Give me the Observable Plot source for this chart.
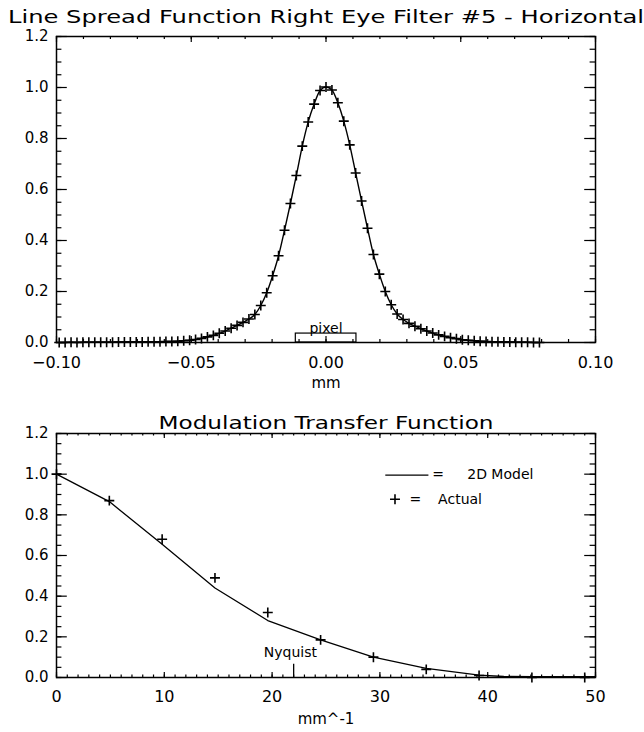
<!DOCTYPE html>
<html>
<head>
<meta charset="utf-8">
<script src="https://cdn.jsdelivr.net/npm/d3@7"></script>
<script src="https://cdn.jsdelivr.net/npm/@observablehq/plot@0.6"></script>
<style>
  html, body { margin: 0; padding: 0; background: #fff; }
  svg { display: block; }
</style>
</head>
<body>
<div id="chart"></div>
<script>
// ---------- Panel 1: Line Spread Function ----------
const lsfTitle = "Line Spread Function Right Eye Filter #5 - Horizontal";
const lsfXLabel = "mm";
const lsfXTicks = [-0.10, -0.05, 0.00, 0.05, 0.10];
const lsfYTicks = [0.0, 0.2, 0.4, 0.6, 0.8, 1.0, 1.2];

const lsfX = [
  -0.0990, -0.0968, -0.0946, -0.0924, -0.0902, -0.0880, -0.0858, -0.0836, -0.0814, -0.0792,
  -0.0770, -0.0748, -0.0726, -0.0704, -0.0682, -0.0660, -0.0638, -0.0616, -0.0594, -0.0572,
  -0.0550, -0.0528, -0.0506, -0.0484, -0.0462, -0.0440, -0.0418, -0.0396, -0.0374, -0.0352,
  -0.0330, -0.0308, -0.0286, -0.0264, -0.0242, -0.0220, -0.0198, -0.0176, -0.0154, -0.0132,
  -0.0110, -0.0088, -0.0066, -0.0044, -0.0022, 0.0000, 0.0022, 0.0044, 0.0066, 0.0088,
  0.0110, 0.0132, 0.0154, 0.0176, 0.0198, 0.0220, 0.0242, 0.0264, 0.0286, 0.0308,
  0.0330, 0.0352, 0.0374, 0.0396, 0.0418, 0.0440, 0.0462, 0.0484, 0.0506, 0.0528,
  0.0550, 0.0572, 0.0594, 0.0616, 0.0638, 0.0660, 0.0682, 0.0704, 0.0726, 0.0748,
  0.0770, 0.0792
];
const lsfY = [
  0.000, 0.000, 0.001, 0.000, 0.001, 0.001, 0.001, 0.001, 0.001, 0.001,
  0.002, 0.002, 0.002, 0.002, 0.002, 0.003, 0.003, 0.003, 0.004, 0.004,
  0.005, 0.007, 0.009, 0.012, 0.016, 0.022, 0.028, 0.036, 0.045, 0.056,
  0.067, 0.079, 0.092, 0.110, 0.145, 0.195, 0.262, 0.340, 0.440, 0.545,
  0.655, 0.770, 0.865, 0.935, 0.988, 1.002, 0.990, 0.940, 0.868, 0.775,
  0.665, 0.555, 0.448, 0.345, 0.268, 0.200, 0.148, 0.112, 0.090, 0.075,
  0.064, 0.054, 0.045, 0.037, 0.030, 0.024, 0.019, 0.015, 0.011, 0.009,
  0.007, 0.005, 0.004, 0.003, 0.003, 0.002, 0.002, 0.001, 0.001, 0.001,
  0.000, 0.000
];
const pixelBox = {x1: -0.0112, x2: 0.0113, y1: 0, y2: 0.035, label: "pixel"};

// ---------- Panel 2: Modulation Transfer Function ----------
const mtfTitle = "Modulation Transfer Function";
const mtfXLabel = "mm^-1";
const mtfXTicks = [0, 10, 20, 30, 40, 50];
const mtfYTicks = [0.0, 0.2, 0.4, 0.6, 0.8, 1.0, 1.2];
const mtfModelX = [0, 4.9, 9.8, 14.7, 19.6, 24.5, 29.4, 34.3, 39.2, 41.5, 44.1, 49.0, 50];
const mtfModelY = [1.0, 0.865, 0.655, 0.44, 0.28, 0.185, 0.10, 0.045, 0.012, 0.005, 0.004, 0.004, 0.004];
const mtfActualX = [0, 4.9, 9.8, 14.7, 19.6, 24.5, 29.4, 34.3, 39.2, 44.1, 49.0];
const mtfActualY = [1.0, 0.87, 0.68, 0.49, 0.32, 0.185, 0.10, 0.04, 0.01, 0.0, 0.0];
const nyquist = 22.0;
const legendModel = "2D Model";
const legendActual = "Actual";

// ---------- build ----------
const lsf = lsfX.map((x, i) => ({x, y: lsfY[i]}));
const mtfModel = mtfModelX.map((x, i) => ({x, y: mtfModelY[i]}));
const mtfActual = mtfActualX.map((x, i) => ({x, y: mtfActualY[i]}));

const W = 644, ML = 56, MR = 49;
const FW = W - ML - MR;
const FONT = "DejaVu Sans";

function boxTicks(xMajor, xMinor, yMajor, yMinor, FH, xLen) {
  const yLen = 10.8;
  const o = {stroke: "black", strokeWidth: 1.2};
  return [
    Plot.tickX(xMajor, {x: d => d, insetTop: FH - xLen, ...o}),
    Plot.tickX(xMajor, {x: d => d, insetBottom: FH - xLen, ...o}),
    Plot.tickX(xMinor, {x: d => d, insetTop: FH - xLen / 2, ...o}),
    Plot.tickX(xMinor, {x: d => d, insetBottom: FH - xLen / 2, ...o}),
    Plot.tickY(yMajor, {y: d => d, insetRight: FW - yLen, ...o}),
    Plot.tickY(yMajor, {y: d => d, insetLeft: FW - yLen, ...o}),
    Plot.tickY(yMinor, {y: d => d, insetRight: FW - yLen / 2, ...o}),
    Plot.tickY(yMinor, {y: d => d, insetLeft: FW - yLen / 2, ...o})
  ];
}

// Panel 1
const H1 = 400, MT1 = 36, MB1 = 58, FH1 = H1 - MT1 - MB1;
const plot1 = Plot.plot({
  width: W, height: H1,
  marginTop: MT1, marginBottom: MB1, marginLeft: ML, marginRight: MR,
  style: {fontFamily: FONT, fontSize: "16px", color: "black", background: "white"},
  x: {domain: [-0.1, 0.1]},
  y: {domain: [0, 1.2]},
  marks: [
    ...boxTicks(lsfXTicks, d3.ticks(-0.1, 0.1, 20), lsfYTicks, d3.ticks(0, 1.2, 24), FH1, 6),
    Plot.axisX({ticks: lsfXTicks, tickSize: 0, tickPadding: 14, tickFormat: d3.format(".2f"), label: null}),
    Plot.axisY({ticks: lsfYTicks, tickSize: 0, tickPadding: 8, tickFormat: d3.format(".1f"), label: null, fontSize: 15}),
    Plot.line(lsf, {x: "x", y: "y", curve: "monotone-x", stroke: "black", strokeWidth: 1.4}),
    Plot.dot(lsf, {x: "x", y: "y", symbol: "plus", r: 3.3, stroke: "black", strokeWidth: 1.6}),
    Plot.rect([pixelBox], {x1: "x1", x2: "x2", y1: "y1", y2: "y2", fill: "none", stroke: "black", strokeWidth: 1.2}),
    Plot.text([pixelBox], {x: 0, y: "y2", text: "label", lineAnchor: "bottom", dy: -1, fontSize: 14}),
    Plot.frame({stroke: "black", strokeWidth: 1.5}),
    Plot.text([lsfTitle], {frameAnchor: "top", dy: -26, fontSize: 17, text: d => d}),
    Plot.text([lsfXLabel], {frameAnchor: "bottom", dy: 45, fontSize: 15, text: d => d})
  ]
});

// Panel 2
const H2 = 332, MT2 = 33, MB2 = 55, FH2 = H2 - MT2 - MB2;
const plot2 = Plot.plot({
  width: W, height: H2,
  marginTop: MT2, marginBottom: MB2, marginLeft: ML, marginRight: MR,
  style: {fontFamily: FONT, fontSize: "16px", color: "black", background: "white"},
  x: {domain: [0, 50]},
  y: {domain: [0, 1.2]},
  marks: [
    ...boxTicks(mtfXTicks, d3.ticks(0, 50, 50), mtfYTicks, d3.ticks(0, 1.2, 24), FH2, 5),
    Plot.axisX({ticks: mtfXTicks, tickSize: 0, tickPadding: 13, tickFormat: d3.format("d"), label: null}),
    Plot.axisY({ticks: mtfYTicks, tickSize: 0, tickPadding: 8, tickFormat: d3.format(".1f"), label: null, fontSize: 15}),
    Plot.line(mtfModel, {x: "x", y: "y", stroke: "black", strokeWidth: 1.3}),
    Plot.dot(mtfActual, {x: "x", y: "y", symbol: "plus", r: 3.3, stroke: "black", strokeWidth: 1.6}),
    Plot.ruleX([nyquist], {y1: 0, y2: 0.065, stroke: "black", strokeWidth: 1.3}),
    Plot.text(["Nyquist"], {x: nyquist - 0.3, y: 0.125, text: d => d, fontSize: 14}),
    // legend
    Plot.link([legendModel], {x1: 30.5, x2: 34.5, y1: 0.995, y2: 0.995, stroke: "black", strokeWidth: 1.2}),
    Plot.text(["="], {x: 35.4, y: 1.0, text: d => d, fontSize: 14}),
    Plot.text([legendModel], {x: 38.1, y: 1.0, text: d => d, textAnchor: "start", fontSize: 14}),
    Plot.dot([legendActual], {x: 31.4, y: 0.877, symbol: "plus", r: 3.3, stroke: "black", strokeWidth: 1.6}),
    Plot.text(["="], {x: 33.3, y: 0.877, text: d => d, fontSize: 14}),
    Plot.text([legendActual], {x: 35.4, y: 0.877, text: d => d, textAnchor: "start", fontSize: 14}),
    Plot.frame({stroke: "black", strokeWidth: 1.5}),
    Plot.text([mtfTitle], {frameAnchor: "top", dy: -17, fontSize: 18, text: d => d}),
    Plot.text([mtfXLabel], {frameAnchor: "bottom", dy: 46, fontSize: 15, text: d => d})
  ]
});

// stretch titles to match the wide vector font of the original
function stretch(svg, str, len) {
  d3.select(svg).selectAll("text").filter(function() { return this.textContent === str; })
    .attr("textLength", len).attr("lengthAdjust", "spacingAndGlyphs");
}
const chart = document.getElementById("chart");
chart.appendChild(plot1);
chart.appendChild(plot2);
stretch(plot1, lsfTitle, 636);
stretch(plot2, mtfTitle, 335);
</script>
</body>
</html>
